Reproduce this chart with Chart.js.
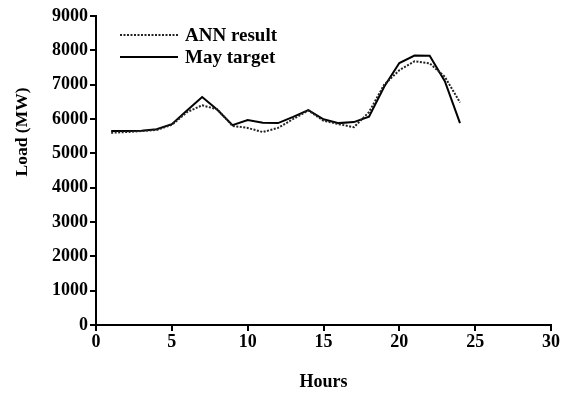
<!DOCTYPE html>
<html>
<head>
<meta charset="utf-8">
<script src="https://cdn.jsdelivr.net/npm/chart.js@4"></script>
<style>
  body { margin: 0; background: #fff; }
</style>
</head>
<body>
<canvas id="myChart" width="570" height="393"></canvas>
<script>
var hours = [1, 2, 3, 4, 5, 6, 7, 8, 9, 10, 11, 12, 13, 14, 15, 16, 17, 18, 19, 20, 21, 22, 23, 24];
var annResult = [5600, 5620, 5650, 5680, 5830, 6200, 6400, 6280, 5800, 5740, 5620, 5740, 6000, 6250, 5950, 5850, 5760, 6200, 7000, 7420, 7680, 7620, 7230, 6480];
var mayTarget = [5650, 5650, 5660, 5700, 5850, 6250, 6640, 6270, 5820, 5970, 5890, 5880, 6060, 6260, 5990, 5880, 5910, 6070, 6940, 7630, 7850, 7840, 7100, 5880];
var xTicks = [0, 5, 10, 15, 20, 25, 30];
var yTicks = [0, 1000, 2000, 3000, 4000, 5000, 6000, 7000, 8000, 9000];

var serif = "'Liberation Serif', 'DejaVu Serif', serif";

function pts(ys) {
  return hours.map(function (h, i) { return { x: h, y: ys[i] }; });
}

// legend inside the plot (top left) + y title sitting high on the axis
var extras = {
  id: 'extras',
  afterDraw: function (chart) {
    var c = chart.ctx;
    var area = chart.chartArea;
    c.save();
    c.font = 'bold 19px ' + serif;
    c.textBaseline = 'middle';
    c.fillStyle = '#000';
    chart.data.datasets.forEach(function (ds, i) {
      var y = area.top + 19 + i * 22;
      c.beginPath();
      c.strokeStyle = ds.borderColor;
      c.lineWidth = ds.borderWidth;
      c.setLineDash(ds.borderDash || []);
      c.moveTo(area.left + 24, y);
      c.lineTo(area.left + 82, y);
      c.stroke();
      c.setLineDash([]);
      c.fillText(ds.label, area.left + 89, y + 1);
    });
    c.restore();

    c.save();
    c.font = 'bold 17.5px ' + serif;
    c.fillStyle = '#000';
    c.textAlign = 'center';
    c.textBaseline = 'middle';
    c.translate(22, 132);
    c.rotate(-Math.PI / 2);
    c.fillText('Load (MW)', 0, 0);
    c.restore();
  }
};

var ctx = document.getElementById("myChart");
var chart = new Chart(ctx, {
  type: 'line',
  data: {
    datasets: [{
      label: 'ANN result',
      data: pts(annResult),
      borderColor: '#222',
      borderWidth: 2,
      borderDash: [2, 1.5],
      pointRadius: 0,
      tension: 0,
      fill: false
    }, {
      label: 'May target',
      data: pts(mayTarget),
      borderColor: '#000',
      borderWidth: 2,
      pointRadius: 0,
      tension: 0,
      fill: false
    }]
  },
  options: {
    responsive: false,
    animation: false,
    layout: { padding: { top: 16, right: 19, left: 0, bottom: 0 } },
    plugins: {
      legend: { display: false },
      tooltip: { enabled: false }
    },
    scales: {
      x: {
        type: 'linear',
        min: 0,
        max: 30,
        afterBuildTicks: function (s) { s.ticks = xTicks.map(function (v) { return { value: v }; }); },
        afterFit: function (s) { s.height = 68; },
        grid: { drawOnChartArea: false, color: '#000', lineWidth: 2, tickLength: 6 },
        border: { color: '#000', width: 2 },
        ticks: {
          color: '#000', font: { family: serif, size: 18, weight: 'bold' }, padding: 1, maxRotation: 0,
          callback: function (v) { return String(v); }
        },
        title: { display: true, text: 'Hours', color: '#000', font: { family: serif, size: 18, weight: 'bold' }, padding: { top: 4, bottom: 0 } }
      },
      y: {
        min: 0,
        max: 9000,
        afterBuildTicks: function (s) { s.ticks = yTicks.map(function (v) { return { value: v }; }); },
        afterFit: function (s) { s.width = 96; },
        grid: { drawOnChartArea: false, color: '#000', lineWidth: 2, tickLength: 6 },
        border: { color: '#000', width: 2 },
        ticks: {
          color: '#000', font: { family: serif, size: 18, weight: 'bold' }, padding: 2,
          callback: function (v) { return String(v); }
        }
      }
    }
  },
  plugins: [extras]
});
</script>
</body>
</html>
